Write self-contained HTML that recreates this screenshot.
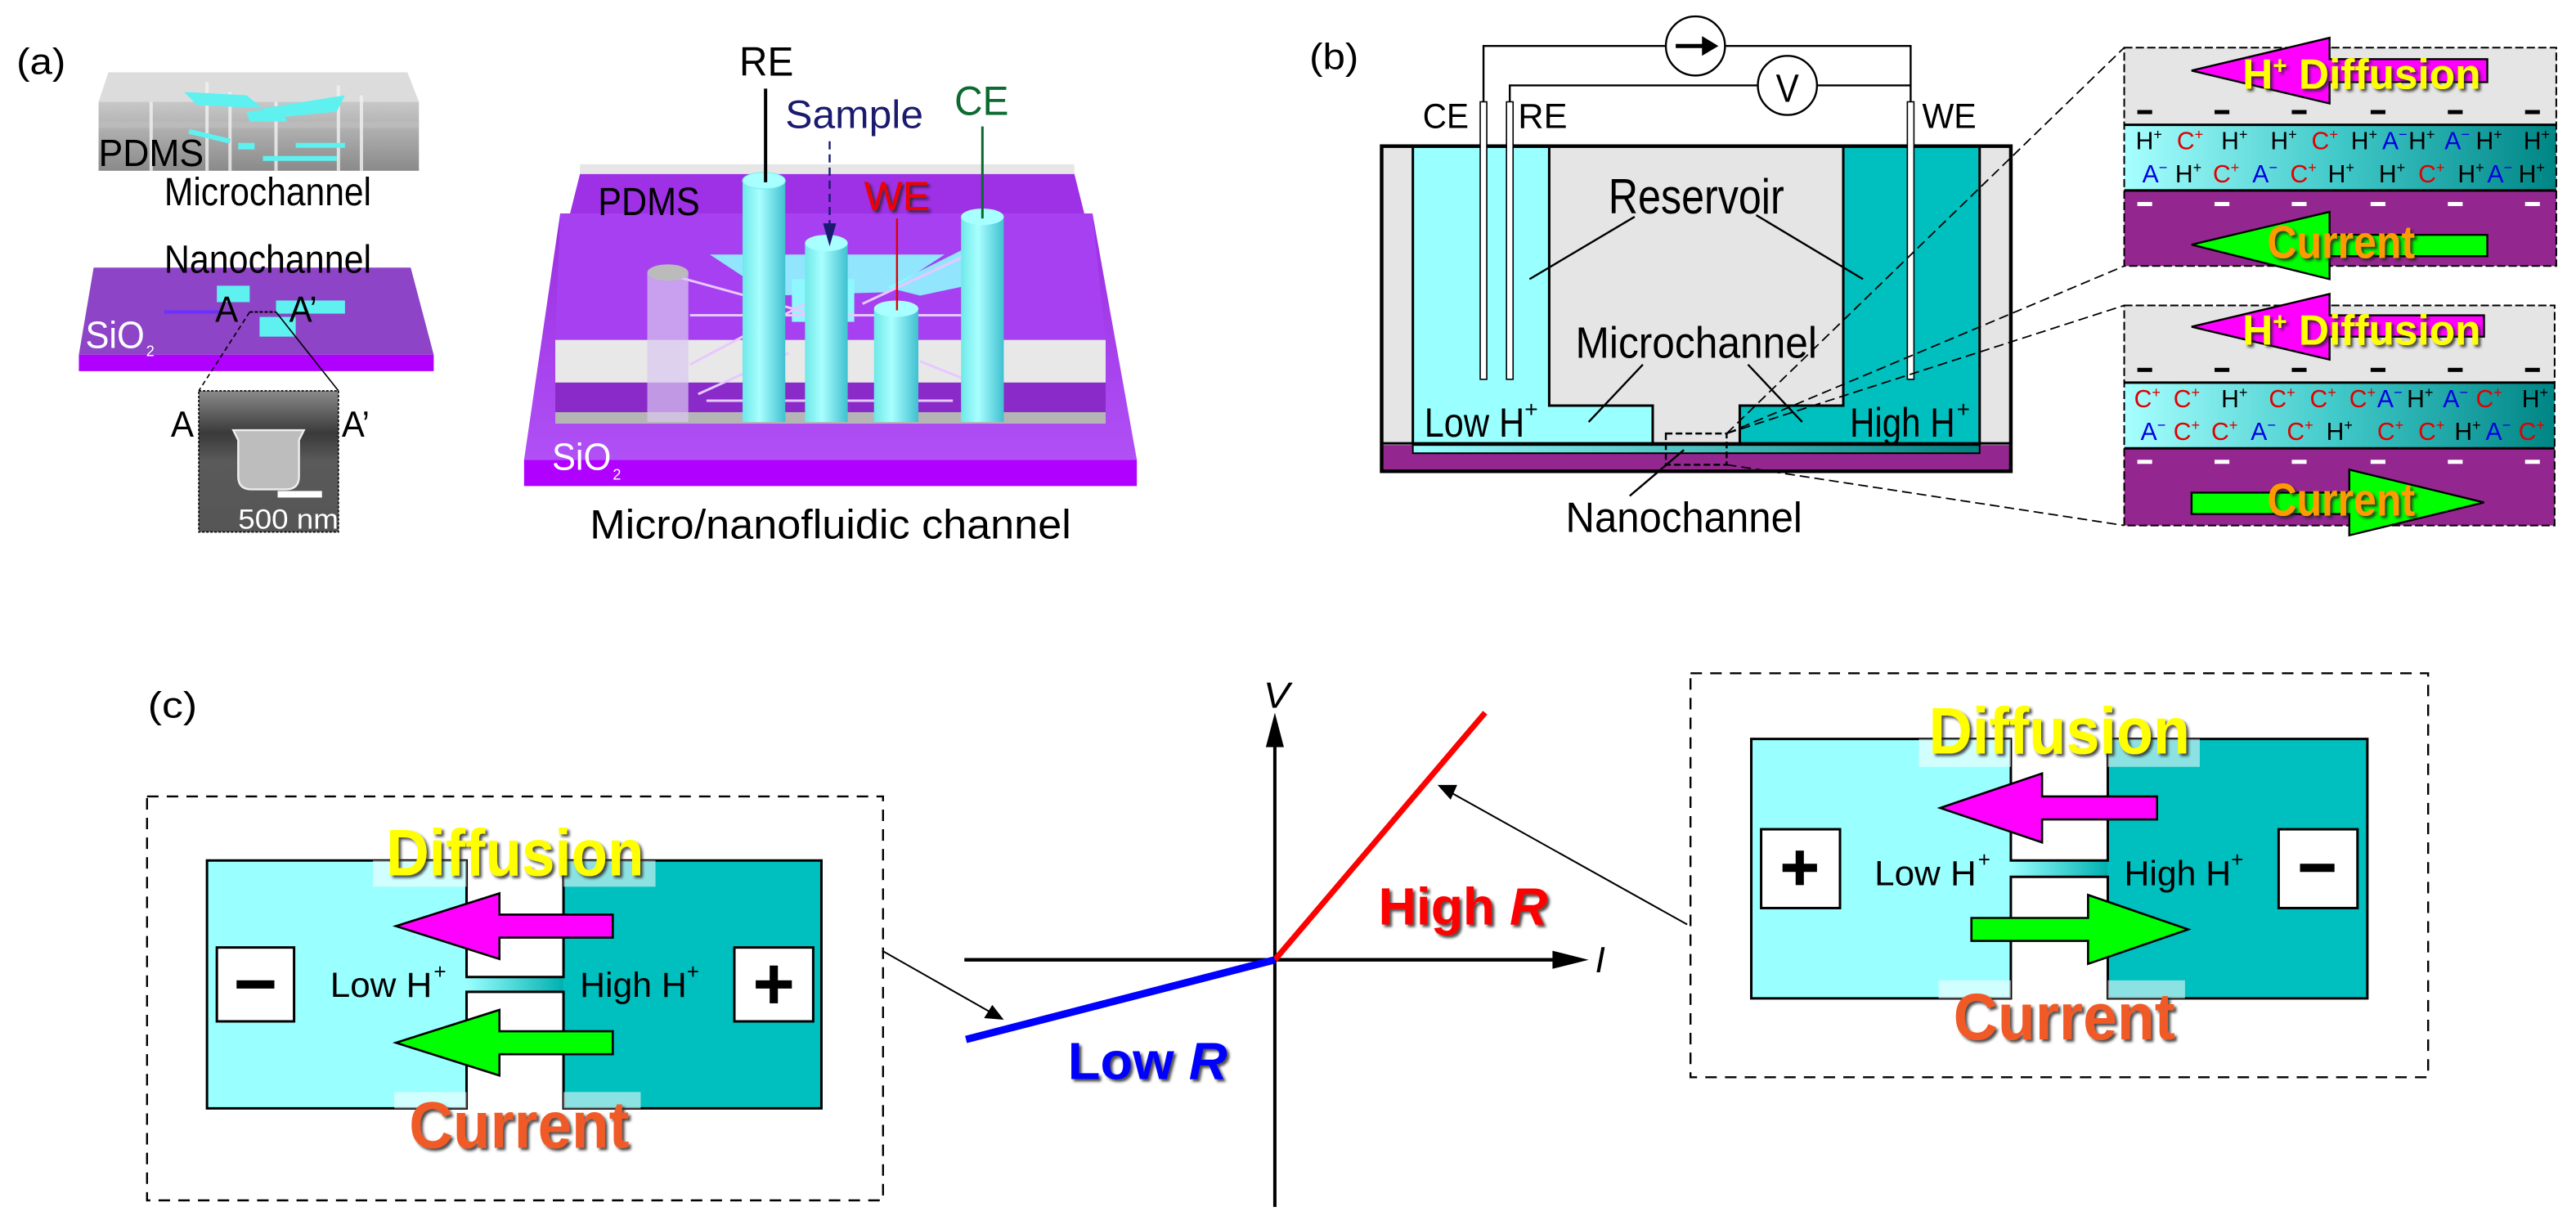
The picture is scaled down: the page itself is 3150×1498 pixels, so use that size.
<!DOCTYPE html>
<html><head><meta charset="utf-8">
<style>
html,body{margin:0;padding:0;background:#fff;}
svg{display:block;}
text{font-family:"Liberation Sans",sans-serif;}
.k{fill:#000}.r{fill:#e00000}.b{fill:#0000e0}
</style></head>
<body>
<svg width="3150" height="1498" viewBox="0 0 1568 746" preserveAspectRatio="none" xmlns="http://www.w3.org/2000/svg">
<defs>
<linearGradient id="gcy" x1="0" x2="1" y1="0" y2="0"><stop offset="0" stop-color="#a8ffff"/><stop offset="0.5" stop-color="#40c8c8"/><stop offset="1" stop-color="#008585"/></linearGradient>
<linearGradient id="gch" x1="0" x2="1"><stop offset="0" stop-color="#99ffff"/><stop offset="1" stop-color="#00b0b0"/></linearGradient>
<linearGradient id="gstrip" x1="0" x2="1"><stop offset="0" stop-color="#99ffff"/><stop offset="1" stop-color="#008080"/></linearGradient>
<linearGradient id="gcyl" x1="0" x2="1"><stop offset="0" stop-color="#6fe8e8"/><stop offset="0.4" stop-color="#a8ffff"/><stop offset="1" stop-color="#40c0d0"/></linearGradient>
<linearGradient id="gpur" x1="0" y1="0" x2="0" y2="1"><stop offset="0" stop-color="#9a2ee0"/><stop offset="1" stop-color="#b050f5"/></linearGradient>
<linearGradient id="gpdms" x1="0" y1="0" x2="0" y2="1"><stop offset="0" stop-color="#c8c8c8"/><stop offset="1" stop-color="#8a8a8a"/></linearGradient>
<linearGradient id="gsem" x1="0" y1="0" x2="0" y2="1"><stop offset="0" stop-color="#8a8a8a"/><stop offset="0.3" stop-color="#3a3a3a"/><stop offset="0.5" stop-color="#5a5a5a"/><stop offset="1" stop-color="#555"/></linearGradient>
<filter id="sh" x="-10%" y="-10%" width="130%" height="140%"><feDropShadow dx="1.5" dy="1.5" stdDeviation="0.8" flood-color="#222" flood-opacity="0.8"/></filter>
</defs>

<!-- ================= (a) ================= -->
<text x="10" y="45" font-size="22" textLength="30" lengthAdjust="spacingAndGlyphs">(a)</text>
<polygon points="66,44 248,44 255,62 60,62" fill="#dcdcdc"/>
<rect x="60" y="62" width="195" height="42" fill="url(#gpdms)"/>
<rect x="60" y="74" width="195" height="4" fill="#c0c0c0" opacity="0.6"/>
<g stroke="#f2f2f2" stroke-width="2" opacity="0.8">
<line x1="92" y1="62" x2="92" y2="104"/><line x1="126" y1="50" x2="126" y2="104"/><line x1="140" y1="56" x2="140" y2="104"/><line x1="168" y1="62" x2="168" y2="104"/><line x1="206" y1="52" x2="206" y2="104"/><line x1="220" y1="58" x2="220" y2="104"/>
</g>
<polygon points="112,56 150,58 160,66 120,64" fill="#5ff0f0"/>
<polygon points="160,66 210,58 205,68 165,72" fill="#5ff0f0"/>
<polygon points="150,68 170,66 175,74 152,74" fill="#5ff0f0"/>
<rect x="160" y="95" width="45" height="3" fill="#5ff0f0"/>
<rect x="145" y="87" width="10" height="4" fill="#5ff0f0"/>
<rect x="180" y="87" width="30" height="3" fill="#5ff0f0"/>
<line x1="115" y1="80" x2="140" y2="86" stroke="#5ff0f0" stroke-width="3"/>
<text x="60" y="101" font-size="23" textLength="64" lengthAdjust="spacingAndGlyphs">PDMS</text>
<text x="100" y="125" font-size="24" textLength="126" lengthAdjust="spacingAndGlyphs">Microchannel</text>
<polygon points="57,163 250,163 264,216 48,216" fill="#8e44c6"/>
<polygon points="48,216 264,216 264,226 48,226" fill="#b000ff"/>
<rect x="132" y="174" width="20" height="10" fill="#5ff0f0"/>
<rect x="168" y="183" width="42" height="8" fill="#5ff0f0"/>
<rect x="158" y="193" width="22" height="12" fill="#5ff0f0"/>
<line x1="100" y1="190" x2="135" y2="190" stroke="#6a30ff" stroke-width="2"/>
<text x="100" y="166" font-size="24" textLength="126" lengthAdjust="spacingAndGlyphs">Nanochannel</text>
<text x="131" y="196" font-size="22" textLength="14" lengthAdjust="spacingAndGlyphs">A</text>
<text x="176" y="196" font-size="22" textLength="17" lengthAdjust="spacingAndGlyphs">A’</text>
<line x1="152" y1="190" x2="168" y2="190" stroke="#000" stroke-width="1" stroke-dasharray="2,1"/>
<text x="52" y="212" font-size="23" fill="#fff" textLength="36" lengthAdjust="spacingAndGlyphs">SiO</text>
<text x="89" y="217" font-size="9" fill="#fff">2</text>
<line x1="152" y1="190" x2="121" y2="238" stroke="#000" stroke-width="0.8" stroke-dasharray="3,2"/>
<line x1="168" y1="190" x2="206" y2="238" stroke="#000" stroke-width="0.8"/>
<rect x="121" y="238" width="85" height="86" fill="url(#gsem)" stroke="#000" stroke-width="0.8" stroke-dasharray="1.5,1"/>
<path d="M142,262 H185 L182,268 V290 Q182,298 174,298 H153 Q145,298 145,290 V268 Z" fill="#bdbdbd" stroke="#eee" stroke-width="1.2"/>
<rect x="169" y="299" width="27" height="4" fill="#fff"/>
<text x="145" y="322" font-size="17" fill="#fff" textLength="61" lengthAdjust="spacingAndGlyphs">500 nm</text>
<text x="104" y="266" font-size="22" textLength="14" lengthAdjust="spacingAndGlyphs">A</text>
<text x="208" y="266" font-size="22" textLength="17" lengthAdjust="spacingAndGlyphs">A’</text>

<polygon points="341,130 665,130 692,280 319,280" fill="url(#gpur)"/>
<polygon points="319,280 692,280 692,296 319,296" fill="#b000ff"/>
<rect x="353" y="100" width="301" height="7" fill="#e6e6e6"/>
<polygon points="353,106 654,106 660,130 347,130" fill="#9e30e6"/>
<polygon points="341,130 665,130 673,207 338,207" fill="#a640f0"/>
<rect x="338" y="207" width="335" height="26" fill="#e8e8e8"/>
<rect x="338" y="233" width="335" height="18" fill="#8a2ac8"/>
<rect x="338" y="251" width="335" height="7" fill="#b5b5b5"/>
<polygon points="432,155 575,155 540,178 470,180" fill="#8ff8ff" opacity="0.9"/>
<polygon points="540,175 590,150 598,172 560,180" fill="#8ff8ff" opacity="0.9"/>
<rect x="482" y="170" width="38" height="26" fill="#8ff8ff"/>
<g stroke="#e8c8ff" stroke-width="1.5">
<line x1="410" y1="168" x2="490" y2="190"/><line x1="420" y1="192" x2="590" y2="192"/><line x1="420" y1="222" x2="490" y2="185"/><line x1="525" y1="185" x2="600" y2="150"/><line x1="430" y1="244" x2="580" y2="244"/><line x1="425" y1="240" x2="480" y2="215"/><line x1="560" y1="220" x2="610" y2="240"/>
</g>
<rect x="394" y="166" width="25" height="91" fill="#d8c8f0" opacity="0.7"/>
<ellipse cx="406.5" cy="166" rx="12.5" ry="5" fill="#bbb"/>
<g>
<rect x="452" y="110" width="26" height="147" fill="url(#gcyl)"/><ellipse cx="465" cy="110" rx="13" ry="5" fill="#a8ffff" stroke="#7ee" stroke-width="0.5"/>
<rect x="585" y="132" width="26" height="125" fill="url(#gcyl)"/><ellipse cx="598" cy="132" rx="13" ry="5" fill="#a8ffff"/>
<rect x="490" y="148" width="26" height="109" fill="url(#gcyl)"/><ellipse cx="503" cy="148" rx="13" ry="5" fill="#a8ffff"/>
<rect x="532" y="188" width="27" height="69" fill="url(#gcyl)"/><ellipse cx="545.5" cy="188" rx="13.5" ry="5" fill="#a8ffff"/>
</g>
<text x="364" y="131" font-size="24" textLength="62" lengthAdjust="spacingAndGlyphs">PDMS</text>
<text x="336" y="286" font-size="23" fill="#fff" textLength="36" lengthAdjust="spacingAndGlyphs">SiO</text>
<text x="373" y="292" font-size="9" fill="#fff">2</text>
<text x="450" y="46" font-size="25" textLength="33" lengthAdjust="spacingAndGlyphs">RE</text>
<line x1="466" y1="54" x2="466" y2="111" stroke="#000" stroke-width="2"/>
<text x="478" y="78" font-size="24" fill="#1a1a6e" textLength="84" lengthAdjust="spacingAndGlyphs">Sample</text>
<line x1="505" y1="86" x2="505" y2="138" stroke="#1a1a6e" stroke-width="1.2" stroke-dasharray="5,3"/>
<polygon points="501,136 509,136 505,150" fill="#1a1a6e"/>
<text x="581" y="70" font-size="25" fill="#0a6a30" textLength="33" lengthAdjust="spacingAndGlyphs">CE</text>
<line x1="598" y1="77" x2="598" y2="133" stroke="#0a6a30" stroke-width="1.5"/>
<text x="526" y="128" font-size="25" fill="#f00000" textLength="40" lengthAdjust="spacingAndGlyphs" filter="url(#sh)">WE</text>
<line x1="546" y1="133" x2="546" y2="189" stroke="#e00000" stroke-width="1.2"/>
<text x="359" y="328" font-size="25" textLength="293" lengthAdjust="spacingAndGlyphs">Micro/nanofluidic channel</text>

<!-- ================= (b) ================= -->
<text x="797" y="42" font-size="22" textLength="30" lengthAdjust="spacingAndGlyphs">(b)</text>
<rect x="841" y="89" width="383" height="198" fill="#e5e5e5"/>
<polygon points="860,90 943,90 943,247 1006,247 1006,272 860,272" fill="#99ffff"/>
<polygon points="1122,90 1205,90 1205,272 1059,272 1059,247 1122,247" fill="#00bfbf"/>
<rect x="841" y="271" width="383" height="16" fill="#93278f"/>
<rect x="860" y="271" width="345" height="5" fill="url(#gstrip)" stroke="#000" stroke-width="1"/>
<g fill="none" stroke="#000" stroke-width="1.5">
<path d="M860,90 V271 M1205,90 V271"/>
<path d="M943,90 V247 H1006 V270"/>
<path d="M1122,90 V247 H1059 V270"/>
</g>
<line x1="841" y1="270" x2="1224" y2="270" stroke="#000" stroke-width="1.5"/>
<rect x="841" y="89" width="383" height="198" fill="none" stroke="#000" stroke-width="2.2"/>
<g fill="none" stroke="#000" stroke-width="1.2">
<path d="M903,62 V28 H1163 V62"/>
<path d="M919,62 V52 H1163"/>
</g>
<g fill="#fff" stroke="#000" stroke-width="0.8">
<rect x="901" y="62" width="4" height="169"/><rect x="917" y="62" width="4" height="169"/><rect x="1161" y="62" width="4" height="169"/>
</g>
<circle cx="1032" cy="28" r="18" fill="#fff" stroke="#000" stroke-width="1.2"/>
<line x1="1020" y1="28" x2="1038" y2="28" stroke="#000" stroke-width="2.5"/>
<polygon points="1036,22 1046,28 1036,34" fill="#000"/>
<circle cx="1088" cy="52" r="18" fill="#fff" stroke="#000" stroke-width="1.2"/>
<text x="1081" y="62" font-size="24" textLength="14" lengthAdjust="spacingAndGlyphs">V</text>
<text x="866" y="78" font-size="21" textLength="28" lengthAdjust="spacingAndGlyphs">CE</text>
<text x="924" y="78" font-size="21" textLength="30" lengthAdjust="spacingAndGlyphs">RE</text>
<text x="1170" y="78" font-size="21" textLength="33" lengthAdjust="spacingAndGlyphs">WE</text>
<text x="979" y="130" font-size="30" textLength="107" lengthAdjust="spacingAndGlyphs">Reservoir</text>
<g stroke="#000" stroke-width="1.2">
<line x1="995" y1="132" x2="931" y2="170"/><line x1="1069" y1="131" x2="1134" y2="170"/>
<line x1="1000" y1="222" x2="967" y2="257"/><line x1="1064" y1="222" x2="1097" y2="257"/>
<line x1="1025" y1="274" x2="992" y2="302"/>
</g>
<text x="959" y="218" font-size="27" textLength="147" lengthAdjust="spacingAndGlyphs">Microchannel</text>
<text x="867" y="266" font-size="25" textLength="61" lengthAdjust="spacingAndGlyphs">Low H</text>
<text x="928" y="254" font-size="14">+</text>
<text x="1126" y="266" font-size="25" textLength="64" lengthAdjust="spacingAndGlyphs">High H</text>
<text x="1191" y="254" font-size="14">+</text>
<text x="953" y="324" font-size="26" textLength="144" lengthAdjust="spacingAndGlyphs">Nanochannel</text>
<rect x="1014" y="264" width="37" height="19" fill="none" stroke="#000" stroke-width="1.2" stroke-dasharray="4,2"/>
<g stroke="#000" stroke-width="0.9" stroke-dasharray="6,3">
<line x1="1051" y1="264" x2="1293" y2="29"/>
<line x1="1051" y1="264" x2="1293" y2="162"/>
<line x1="1051" y1="264" x2="1293" y2="186"/>
<line x1="1051" y1="283" x2="1293" y2="320"/>
</g>

<rect x="1293" y="29" width="263" height="47" fill="#e5e5e5"/>
<rect x="1293" y="76" width="263" height="40" fill="url(#gcy)"/>
<rect x="1293" y="116" width="263" height="46" fill="#93278f"/>
<line x1="1293" y1="76" x2="1556" y2="76" stroke="#000" stroke-width="1.5"/>
<line x1="1293" y1="116" x2="1556" y2="116" stroke="#000" stroke-width="1.5"/>
<rect x="1293" y="29" width="263" height="133" fill="none" stroke="#000" stroke-width="1" stroke-dasharray="5,2"/>
<g fill="#000"><rect x="1301" y="67" width="9" height="2.5"/><rect x="1348" y="67" width="9" height="2.5"/><rect x="1395" y="67" width="9" height="2.5"/><rect x="1443" y="67" width="9" height="2.5"/><rect x="1490" y="67" width="9" height="2.5"/><rect x="1537" y="67" width="9" height="2.5"/></g>
<g fill="#fff"><rect x="1301" y="123" width="9" height="2.5"/><rect x="1348" y="123" width="9" height="2.5"/><rect x="1395" y="123" width="9" height="2.5"/><rect x="1443" y="123" width="9" height="2.5"/><rect x="1490" y="123" width="9" height="2.5"/><rect x="1537" y="123" width="9" height="2.5"/></g>
<polygon points="1334,43 1418,23 1418,36 1514,36 1514,50 1418,50 1418,63" fill="#ff00ff" stroke="#000" stroke-width="1.2"/>
<polygon points="1334,149 1418,129 1418,143 1514,143 1514,156 1418,156 1418,170" fill="#00ff00" stroke="#000" stroke-width="1.2"/>
<text x="1365" y="54" font-size="26" font-weight="bold" fill="#ffff00" filter="url(#sh)" textLength="145" lengthAdjust="spacingAndGlyphs">H<tspan dy="-9" font-size="15">+</tspan><tspan dy="9"> Diffusion</tspan></text>
<text x="1380" y="157" font-size="28" font-weight="bold" fill="#ff9a00" filter="url(#sh)" textLength="90" lengthAdjust="spacingAndGlyphs">Current</text>

<rect x="1293" y="186" width="262" height="47" fill="#e5e5e5"/>
<rect x="1293" y="233" width="262" height="40" fill="url(#gcy)"/>
<rect x="1293" y="273" width="262" height="47" fill="#93278f"/>
<line x1="1293" y1="233" x2="1555" y2="233" stroke="#000" stroke-width="1.5"/>
<line x1="1293" y1="273" x2="1555" y2="273" stroke="#000" stroke-width="1.5"/>
<rect x="1293" y="186" width="262" height="134" fill="none" stroke="#000" stroke-width="1" stroke-dasharray="5,2"/>
<g fill="#000"><rect x="1301" y="224" width="9" height="2.5"/><rect x="1348" y="224" width="9" height="2.5"/><rect x="1395" y="224" width="9" height="2.5"/><rect x="1443" y="224" width="9" height="2.5"/><rect x="1490" y="224" width="9" height="2.5"/><rect x="1537" y="224" width="9" height="2.5"/></g>
<g fill="#fff"><rect x="1301" y="280" width="9" height="2.5"/><rect x="1348" y="280" width="9" height="2.5"/><rect x="1395" y="280" width="9" height="2.5"/><rect x="1443" y="280" width="9" height="2.5"/><rect x="1490" y="280" width="9" height="2.5"/><rect x="1537" y="280" width="9" height="2.5"/></g>
<polygon points="1334,199 1418,179 1418,192 1512,192 1512,205 1418,205 1418,219" fill="#ff00ff" stroke="#000" stroke-width="1.2"/>
<polygon points="1334,300 1430,300 1430,286 1512,306 1430,326 1430,313 1334,313" fill="#00ff00" stroke="#000" stroke-width="1.2"/>
<text x="1365" y="210" font-size="26" font-weight="bold" fill="#ffff00" filter="url(#sh)" textLength="145" lengthAdjust="spacingAndGlyphs">H<tspan dy="-9" font-size="15">+</tspan><tspan dy="9"> Diffusion</tspan></text>
<text x="1380" y="314" font-size="28" font-weight="bold" fill="#ff9a00" filter="url(#sh)" textLength="90" lengthAdjust="spacingAndGlyphs">Current</text>

<g font-size="15">
<text x="1300" y="91" class="k">H<tspan font-size="9" dy="-6">+</tspan></text>
<text x="1325" y="91" class="r">C<tspan font-size="9" dy="-6">+</tspan></text>
<text x="1352" y="91" class="k">H<tspan font-size="9" dy="-6">+</tspan></text>
<text x="1382" y="91" class="k">H<tspan font-size="9" dy="-6">+</tspan></text>
<text x="1407" y="91" class="r">C<tspan font-size="9" dy="-6">+</tspan></text>
<text x="1431" y="91" class="k">H<tspan font-size="9" dy="-6">+</tspan></text>
<text x="1450" y="91" class="b">A<tspan font-size="9" dy="-6">−</tspan></text>
<text x="1466" y="91" class="k">H<tspan font-size="9" dy="-6">+</tspan></text>
<text x="1488" y="91" class="b">A<tspan font-size="9" dy="-6">−</tspan></text>
<text x="1507" y="91" class="k">H<tspan font-size="9" dy="-6">+</tspan></text>
<text x="1536" y="91" class="k">H<tspan font-size="9" dy="-6">+</tspan></text>

<text x="1304" y="111" class="b">A<tspan font-size="9" dy="-6">−</tspan></text>
<text x="1324" y="111" class="k">H<tspan font-size="9" dy="-6">+</tspan></text>
<text x="1347" y="111" class="r">C<tspan font-size="9" dy="-6">+</tspan></text>
<text x="1371" y="111" class="b">A<tspan font-size="9" dy="-6">−</tspan></text>
<text x="1394" y="111" class="r">C<tspan font-size="9" dy="-6">+</tspan></text>
<text x="1417" y="111" class="k">H<tspan font-size="9" dy="-6">+</tspan></text>
<text x="1448" y="111" class="k">H<tspan font-size="9" dy="-6">+</tspan></text>
<text x="1472" y="111" class="r">C<tspan font-size="9" dy="-6">+</tspan></text>
<text x="1496" y="111" class="k">H<tspan font-size="9" dy="-6">+</tspan></text>
<text x="1514" y="111" class="b">A<tspan font-size="9" dy="-6">−</tspan></text>
<text x="1533" y="111" class="k">H<tspan font-size="9" dy="-6">+</tspan></text>

<text x="1299" y="248" class="r">C<tspan font-size="9" dy="-6">+</tspan></text>
<text x="1323" y="248" class="r">C<tspan font-size="9" dy="-6">+</tspan></text>
<text x="1352" y="248" class="k">H<tspan font-size="9" dy="-6">+</tspan></text>
<text x="1381" y="248" class="r">C<tspan font-size="9" dy="-6">+</tspan></text>
<text x="1406" y="248" class="r">C<tspan font-size="9" dy="-6">+</tspan></text>
<text x="1430" y="248" class="r">C<tspan font-size="9" dy="-6">+</tspan></text>
<text x="1447" y="248" class="b">A<tspan font-size="9" dy="-6">−</tspan></text>
<text x="1465" y="248" class="k">H<tspan font-size="9" dy="-6">+</tspan></text>
<text x="1487" y="248" class="b">A<tspan font-size="9" dy="-6">−</tspan></text>
<text x="1507" y="248" class="r">C<tspan font-size="9" dy="-6">+</tspan></text>
<text x="1535" y="248" class="k">H<tspan font-size="9" dy="-6">+</tspan></text>

<text x="1303" y="268" class="b">A<tspan font-size="9" dy="-6">−</tspan></text>
<text x="1323" y="268" class="r">C<tspan font-size="9" dy="-6">+</tspan></text>
<text x="1346" y="268" class="r">C<tspan font-size="9" dy="-6">+</tspan></text>
<text x="1370" y="268" class="b">A<tspan font-size="9" dy="-6">−</tspan></text>
<text x="1392" y="268" class="r">C<tspan font-size="9" dy="-6">+</tspan></text>
<text x="1416" y="268" class="k">H<tspan font-size="9" dy="-6">+</tspan></text>
<text x="1447" y="268" class="r">C<tspan font-size="9" dy="-6">+</tspan></text>
<text x="1472" y="268" class="r">C<tspan font-size="9" dy="-6">+</tspan></text>
<text x="1494" y="268" class="k">H<tspan font-size="9" dy="-6">+</tspan></text>
<text x="1513" y="268" class="b">A<tspan font-size="9" dy="-6">−</tspan></text>
<text x="1533" y="268" class="r">C<tspan font-size="9" dy="-6">+</tspan></text>
</g>

<!-- ================= (c) ================= -->
<text x="90" y="437" font-size="22" textLength="30" lengthAdjust="spacingAndGlyphs">(c)</text>

<rect x="89.5" y="485" width="448" height="246" fill="none" stroke="#000" stroke-width="1.2" stroke-dasharray="7,5"/>
<rect x="126" y="524" width="158" height="151" fill="#99ffff"/>
<rect x="343" y="524" width="157" height="151" fill="#00bfbf"/>
<rect x="284" y="595" width="59" height="9" fill="url(#gch)"/>
<path d="M284,595 V524 H126 V675 H284 V604 H343 V675 H500 V524 H343 V595 Z" fill="none" stroke="#000" stroke-width="1.5"/>
<rect x="227" y="524" width="57" height="16" fill="#fff" opacity="0.55"/>
<rect x="343" y="524" width="56" height="16" fill="#fff" opacity="0.55"/>
<rect x="240" y="665" width="44" height="10" fill="#fff" opacity="0.55"/>
<rect x="343" y="665" width="47" height="10" fill="#fff" opacity="0.55"/>
<rect x="132" y="577" width="47" height="45" fill="#fff" stroke="#000" stroke-width="1.5"/>
<rect x="144" y="597" width="23" height="5" fill="#000"/>
<rect x="447" y="577" width="48" height="45" fill="#fff" stroke="#000" stroke-width="1.5"/>
<rect x="460" y="597" width="22" height="5" fill="#000"/><rect x="468.5" y="588" width="5" height="23" fill="#000"/>
<polygon points="241,564 304,544 304,557 373,557 373,571 304,571 304,584" fill="#ff00ff" stroke="#000" stroke-width="1.3"/>
<polygon points="241,635 304,615 304,628 373,628 373,642 304,642 304,655" fill="#00ff00" stroke="#000" stroke-width="1.3"/>
<text x="201" y="607" font-size="21" textLength="62" lengthAdjust="spacingAndGlyphs">Low H</text>
<text x="264" y="596" font-size="13">+</text>
<text x="353" y="607" font-size="21" textLength="65" lengthAdjust="spacingAndGlyphs">High H</text>
<text x="418" y="596" font-size="13">+</text>
<text x="235" y="533" font-size="40" font-weight="bold" fill="#ffff00" filter="url(#sh)" textLength="157" lengthAdjust="spacingAndGlyphs">Diffusion</text>
<text x="249" y="699" font-size="40" font-weight="bold" fill="#f05a28" filter="url(#sh)" textLength="134" lengthAdjust="spacingAndGlyphs">Current</text>

<rect x="1029" y="410" width="449" height="246" fill="none" stroke="#000" stroke-width="1.2" stroke-dasharray="7,5"/>
<rect x="1066" y="450" width="158" height="158" fill="#99ffff"/>
<rect x="1283" y="450" width="158" height="158" fill="#00bfbf"/>
<rect x="1224" y="524" width="59" height="10" fill="url(#gch)"/>
<path d="M1224,524 V450 H1066 V608 H1224 V534 H1283 V608 H1441 V450 H1283 V524 Z" fill="none" stroke="#000" stroke-width="1.5"/>
<rect x="1168" y="450" width="56" height="17" fill="#fff" opacity="0.55"/>
<rect x="1283" y="450" width="56" height="17" fill="#fff" opacity="0.55"/>
<rect x="1180" y="597" width="44" height="11" fill="#fff" opacity="0.55"/>
<rect x="1283" y="597" width="47" height="11" fill="#fff" opacity="0.55"/>
<rect x="1072" y="505" width="48" height="48" fill="#fff" stroke="#000" stroke-width="1.5"/>
<rect x="1085" y="526" width="21" height="5" fill="#000"/><rect x="1093" y="518" width="5" height="21" fill="#000"/>
<rect x="1387" y="505" width="48" height="48" fill="#fff" stroke="#000" stroke-width="1.5"/>
<rect x="1400" y="526" width="21" height="5" fill="#000"/>
<polygon points="1181,492 1243,471 1243,485 1313,485 1313,499 1243,499 1243,513" fill="#ff00ff" stroke="#000" stroke-width="1.3"/>
<polygon points="1200,559 1271,559 1271,545 1332,566 1271,587 1271,573 1200,573" fill="#00ff00" stroke="#000" stroke-width="1.3"/>
<text x="1141" y="539" font-size="21" textLength="62" lengthAdjust="spacingAndGlyphs">Low H</text>
<text x="1204" y="528" font-size="13">+</text>
<text x="1293" y="539" font-size="21" textLength="65" lengthAdjust="spacingAndGlyphs">High H</text>
<text x="1358" y="528" font-size="13">+</text>
<text x="1174" y="459" font-size="40" font-weight="bold" fill="#ffff00" filter="url(#sh)" textLength="159" lengthAdjust="spacingAndGlyphs">Diffusion</text>
<text x="1189" y="633" font-size="40" font-weight="bold" fill="#f05a28" filter="url(#sh)" textLength="135" lengthAdjust="spacingAndGlyphs">Current</text>

<line x1="776" y1="452" x2="776" y2="735" stroke="#000" stroke-width="2"/>
<polygon points="776,434 770.5,455 781.5,455" fill="#000"/>
<line x1="587" y1="584.5" x2="947" y2="584.5" stroke="#000" stroke-width="2.2"/>
<polygon points="967,584.5 945,579 945,590" fill="#000"/>
<text x="769" y="431" font-size="22" font-style="italic" textLength="16" lengthAdjust="spacingAndGlyphs">V</text>
<text x="971" y="592" font-size="22" font-style="italic">I</text>
<line x1="776" y1="584.5" x2="904" y2="434" stroke="#ff0000" stroke-width="3.5"/>
<line x1="776" y1="584.5" x2="588" y2="633" stroke="#0000ff" stroke-width="4.5"/>
<text x="839" y="563" font-size="32" font-weight="bold" fill="#ff0000" filter="url(#sh)" textLength="103" lengthAdjust="spacingAndGlyphs">High <tspan font-style="italic">R</tspan></text>
<text x="650" y="657" font-size="32" font-weight="bold" fill="#0000ff" filter="url(#sh)" textLength="97" lengthAdjust="spacingAndGlyphs">Low <tspan font-style="italic">R</tspan></text>
<line x1="537" y1="579" x2="604" y2="617" stroke="#000" stroke-width="1"/>
<polygon points="611,621 599,620 604,612" fill="#000"/>
<line x1="1027" y1="563" x2="882" y2="482" stroke="#000" stroke-width="1"/>
<polygon points="875,478 887,478 883,487" fill="#000"/>
</svg>
</body></html>
